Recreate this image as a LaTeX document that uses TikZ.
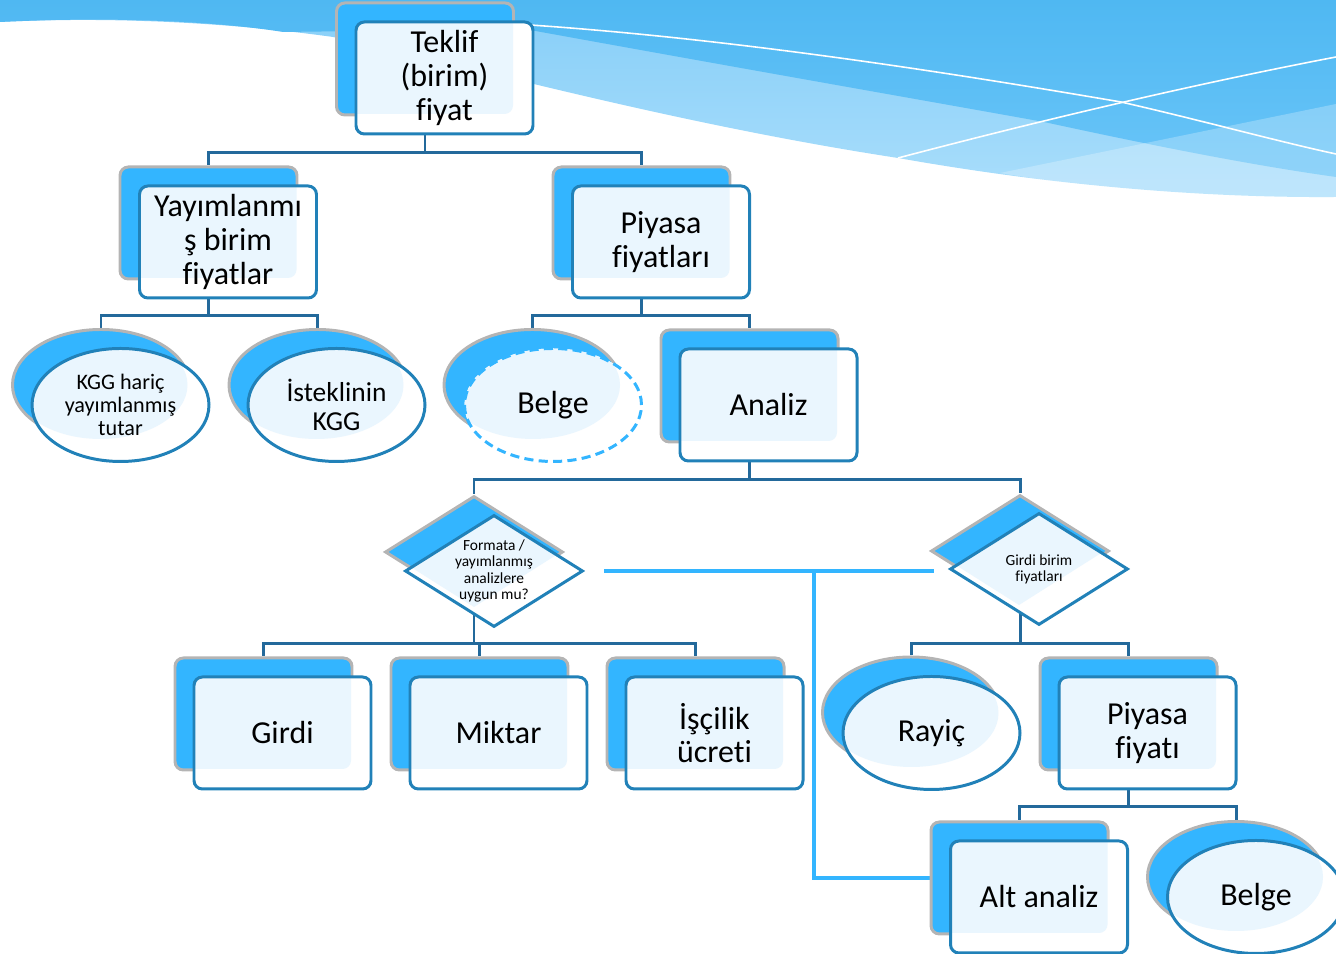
\documentclass[tikz,border=0pt]{standalone}
\usepackage{fontspec}
\setmainfont{Carlito}[Ligatures=NoCommon]
\usetikzlibrary{shapes.geometric,backgrounds}

\definecolor{backblue}{HTML}{33B5FF}
\definecolor{rimgray}{HTML}{B4B4B4}
\definecolor{frameblue}{HTML}{2181B8}
\definecolor{paleblue}{HTML}{EAF6FE}
\definecolor{linkblue}{HTML}{23699B}
\definecolor{flowblue}{HTML}{33B5FF}
\definecolor{wavetop}{HTML}{4FB8F2}
\definecolor{wavelow}{HTML}{6AC5F8}
\definecolor{bandtop}{HTML}{86CEF8}
\definecolor{bandlow}{HTML}{AADEFB}

\newcommand\boxfont{\fontsize{9.1pt}{9.6pt}\selectfont}
\newcommand\notefont{\fontsize{6.3pt}{6.6pt}\selectfont}
\newcommand\midfont{\fontsize{7.8pt}{8.2pt}\selectfont}
\newcommand\rhombfont{\fontsize{4.4pt}{4.6pt}\selectfont}

\tikzset{
  link/.style={draw=linkblue, line width=0.85pt},
  flow/.style={draw=flowblue, line width=1.15pt},
  backbox/.style={rectangle, rounded corners=2.4pt, draw=rimgray, line width=0.85pt,
    fill=backblue, minimum width=1.77cm, minimum height=1.12cm, inner sep=0pt},
  frontbox/.style={rectangle, rounded corners=2.4pt, draw=frameblue, line width=0.85pt,
    fill=white, minimum width=1.77cm, minimum height=1.12cm, inner sep=0pt,
    align=center, font=\boxfont,
    path picture={\fill[paleblue, rounded corners=2.4pt]
      ([shift={(-0.2,0.2)}]path picture bounding box.south west) rectangle
      ([shift={(-0.2,0.2)}]path picture bounding box.north east);}},
  backoval/.style={ellipse, draw=rimgray, line width=0.85pt, fill=backblue,
    minimum width=1.77cm, minimum height=1.11cm, inner sep=0pt},
  frontoval/.style={ellipse, draw=frameblue, line width=0.85pt, fill=white,
    minimum width=1.77cm, minimum height=1.13cm, inner sep=0pt,
    align=center, font=\boxfont,
    path picture={\fill[paleblue]
      ([shift={(-0.2,0.2)}]path picture bounding box.center)
      ellipse [x radius=0.87cm, y radius=0.54cm];}},
  dashoval/.style={frontoval, draw=flowblue, dash pattern=on 2.6pt off 1.5pt},
  backrhomb/.style={diamond, draw=rimgray, line width=0.85pt, fill=backblue,
    minimum width=1.78cm, minimum height=1.12cm, inner sep=0pt},
  frontrhomb/.style={diamond, draw=frameblue, line width=0.85pt, fill=white,
    minimum width=1.78cm, minimum height=1.12cm, inner xsep=-0.25cm, inner ysep=-0.2cm,
    align=center, font=\rhombfont,
    path picture={\fill[paleblue]
      ([shift={(-0.2,0.74)}]path picture bounding box.center) --
      ([shift={(0.67,0.19)}]path picture bounding box.center) --
      ([shift={(-0.2,-0.36)}]path picture bounding box.center) --
      ([shift={(-1.07,0.19)}]path picture bounding box.center) -- cycle;}}
}

\begin{document}
\begin{tikzpicture}
  \useasboundingbox (0,0) rectangle (13.36,-9.54);

  % wave at the top
  \shade[top color=bandtop, bottom color=bandlow]
    (0,0) -- (0,-0.22) .. controls (1.2,-0.16) and (2.4,-0.24) .. (3.33,-0.37)
    .. controls (4.3,-0.55) and (6.5,-1.2) .. (8.98,-1.58)
    .. controls (10.5,-1.85) and (12,-1.98) .. (13.36,-1.97) -- (13.36,0) -- cycle;
  \shade[top color=wavetop, bottom color=wavelow]
    (0,0) -- (0,-0.22) .. controls (1.2,-0.16) and (2.2,-0.22) .. (2.83,-0.32)
    .. controls (3.6,-0.31) and (4.5,-0.3) .. (5.3,-0.3)
    .. controls (7.5,-0.7) and (9.5,-1.05) .. (10.44,-1.22)
    .. controls (11.5,-1.45) and (12.5,-1.65) .. (13.36,-1.77) -- (13.36,0) -- cycle;
  \fill[white, opacity=0.25] (10.0,-1.73) -- (13.36,-1.04) -- (13.36,-1.97)
    .. controls (12,-1.98) and (11,-1.9) .. (10.0,-1.73);
  \draw[white, line width=0.45pt] (5.3,-0.25) .. controls (7.5,-0.4) and (9.8,-0.78) .. (11.21,-1.02)
    .. controls (12,-1.2) and (12.8,-1.42) .. (13.36,-1.54);
  \draw[white, line width=0.45pt] (8.98,-1.58) .. controls (10.5,-1.18) and (12,-0.83) .. (13.36,-0.57);

  % top level
  \node[backbox] (teklifB) at (4.25,-0.59) {};
  \node[frontbox] (teklif) at (4.445,-0.78) {Teklif\\(birim)\\fiyat};

  % second level
  \node[backbox] (yayimB) at (2.085,-2.23) {};
  \node[frontbox] (yayim) at (2.28,-2.42) {Yayımlanmı\\ş birim\\fiyatlar};
  \node[backbox] (piyasaB) at (6.415,-2.23) {};
  \node[frontbox] (piyasa) at (6.61,-2.42) {Piyasa\\fiyatları};

  % third level
  \node[backoval] (kggB) at (1.01,-3.85) {};
  \node[frontoval, font=\notefont] (kgg) at (1.205,-4.05) {KGG hariç\\yayımlanmış\\tutar};
  \node[backoval] (istekB) at (3.175,-3.85) {};
  \node[frontoval, font=\midfont] (istek) at (3.365,-4.05) {İsteklinin\\KGG};
  \node[backoval] (belgeB) at (5.325,-3.85) {};
  \node[dashoval] (belge) at (5.53,-4.05) {Belge};
  \node[backbox] (analizB) at (7.495,-3.86) {};
  \node[frontbox] (analiz) at (7.685,-4.05) {Analiz};

  % questions
  \node[backrhomb] (formataB) at (4.74,-5.52) {};
  \node[frontrhomb] (formata) at (4.94,-5.71) {Formata /\\yayımlanmış\\analizlere\\uygun mu?};
  \node[backrhomb] (girdibfB) at (10.2,-5.51) {};
  \node[frontrhomb] (girdibf) at (10.39,-5.69) {Girdi birim\\fiyatları};

  % fourth level
  \node[backbox] (girdiB) at (2.635,-7.14) {};
  \node[frontbox] (girdi) at (2.825,-7.33) {Girdi};
  \node[backbox] (miktarB) at (4.795,-7.14) {};
  \node[frontbox] (miktar) at (4.985,-7.33) {Miktar};
  \node[backbox] (iscilikB) at (6.955,-7.14) {};
  \node[frontbox] (iscilik) at (7.145,-7.33) {İşçilik\\ücreti};
  \node[backoval] (rayicB) at (9.11,-7.125) {};
  \node[frontoval] (rayic) at (9.315,-7.33) {Rayiç};
  \node[backbox] (piyasafB) at (11.285,-7.14) {};
  \node[frontbox] (piyasaf) at (11.475,-7.33) {Piyasa\\fiyatı};

  % last level
  \node[backbox] (altB) at (10.195,-8.78) {};
  \node[frontbox] (alt) at (10.39,-8.97) {Alt analiz};
  \node[backoval] (belge2B) at (12.36,-8.77) {};
  \node[frontoval] (belge2) at (12.56,-8.97) {Belge};

  \coordinate (split) at (8.14,-5.71);

  \begin{pgfonlayer}{background}
    % tree lines
    \draw[link] (teklifB.south) -- ++(0,-0.36) -| (yayimB.north);
    \draw[link] (teklifB.south) ++(0,-0.36) -| (piyasaB.north);
    \draw[link] (yayimB.south) -- ++(0,-0.35) -| (kggB.north);
    \draw[link] (yayimB.south) ++(0,-0.35) -| (istekB.north);
    \draw[link] (piyasaB.south) -- ++(0,-0.35) -| (belgeB.north);
    \draw[link] (piyasaB.south) ++(0,-0.35) -| (analizB.north);
    \draw[link] (analizB.south) -- ++(0,-0.36) -| (formataB.north);
    \draw[link] (analizB.south) ++(0,-0.36) -| (girdibfB.north);
    \draw[link] (formataB.south) -- ++(0,-0.34) -| (girdiB.north);
    \draw[link] (formataB.south) ++(0,-0.34) -| (miktarB.north);
    \draw[link] (formataB.south) ++(0,-0.34) -| (iscilikB.north);
    \draw[link] (girdibfB.south) -- ++(0,-0.35) -| (rayicB.north);
    \draw[link] (girdibfB.south) ++(0,-0.35) -| (piyasafB.north);
    \draw[link] (piyasafB.south) -- ++(0,-0.35) -| (altB.north);
    \draw[link] (piyasafB.south) ++(0,-0.35) -| (belge2B.north);
    % light blue path
    \draw[flow] ([xshift=0.2cm]formata.east) -- ([xshift=-0.15cm]formata.east -| girdibf.west);
    \draw[flow] (split) |- (altB.west);
  \end{pgfonlayer}
\end{tikzpicture}
\end{document}
